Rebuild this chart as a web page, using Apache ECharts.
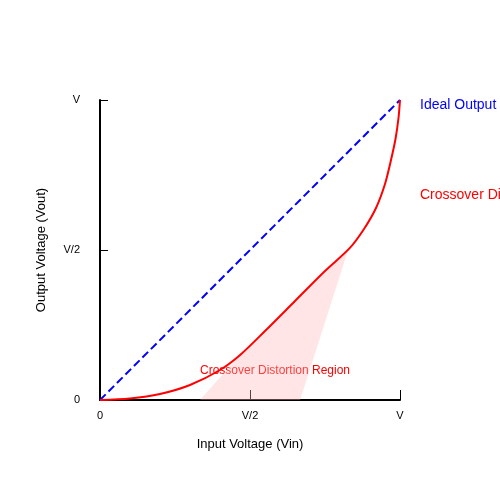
<!DOCTYPE html>
<html><head><meta charset="utf-8">
<script src="https://cdn.jsdelivr.net/npm/echarts@6/dist/echarts.min.js"></script>
</head><body style="margin:0">
<div id="c" style="width:500px;height:500px"></div>
<script>
var idealX=[0,1], idealY=[0,1];
var curveX=[0,0.1,0.2,0.3,0.4,0.467,0.55,0.65,0.75,0.833,0.88,0.92,0.95,0.97,0.985,0.995,1.0];
var curveY=[0,0.005,0.02,0.05,0.1,0.15,0.23,0.33,0.43,0.507,0.57,0.64,0.72,0.8,0.87,0.94,1.0];
var regionX=[0.333,0.467,0.827,0.667];
var regionY=[0,0.15,0.5,0];
var tickVals=[0,0.5,1];
var tickLabels=['0','V/2','V'];
function lab(v){var i=tickVals.indexOf(Math.round(v*10)/10);return i>=0?tickLabels[i]:'';}
var chart=echarts.init(document.getElementById('c'));
chart.setOption({
 animation:false,
 grid:{left:100,right:100,top:100,bottom:100},
 xAxis:{type:'value',min:0,max:1,interval:0.5,name:'Input Voltage (Vin)',nameLocation:'middle',nameGap:38,
  nameTextStyle:{fontSize:13,color:'#000'},
  axisLine:{lineStyle:{color:'#000',width:2}},axisTick:{inside:true,length:10,lineStyle:{color:'#000'}},
  axisLabel:{formatter:lab,color:'#000',fontSize:11,margin:10},splitLine:{show:false}},
 yAxis:{type:'value',min:0,max:1,interval:0.5,name:'Output Voltage (Vout)',nameLocation:'middle',nameGap:52,
  nameTextStyle:{fontSize:13,color:'#000'},
  axisLine:{lineStyle:{color:'#000',width:2}},axisTick:{inside:true,length:8,lineStyle:{color:'#000'}},
  axisLabel:{formatter:lab,color:'#000',fontSize:11,margin:20},splitLine:{show:false}},
 series:[
  {type:'custom',renderItem:function(p,api){
     if(p.dataIndex>0)return;
     var pts=regionX.map(function(x,i){return api.coord([x,regionY[i]]);});
     return {type:'polygon',shape:{points:pts},style:{fill:'rgba(255,180,180,0.35)'}};
   },data:[[0,0]],silent:true,z:1},
  {type:'line',data:idealX.map(function(x,i){return [x,idealY[i]];}),symbol:'none',
   lineStyle:{color:'#0000ff',type:'dashed',width:2},z:3},
  {type:'line',data:curveX.map(function(x,i){return [x,curveY[i]];}),symbol:'none',smooth:0.3,
   lineStyle:{color:'#ff0000',width:2},z:4}
 ],
 graphic:[
  {type:'text',left:420,top:98,style:{text:'Ideal Output',fill:'#0000ff',fontSize:14}},
  {type:'text',left:420,top:188,style:{text:'Crossover Distortion',fill:'#ff0000',fontSize:14}},
  {type:'text',x:275,y:371,style:{text:'Crossover Distortion Region',fill:'#ff0000',fontSize:12,align:'center',verticalAlign:'middle'}}
 ]
});
</script></body></html>
